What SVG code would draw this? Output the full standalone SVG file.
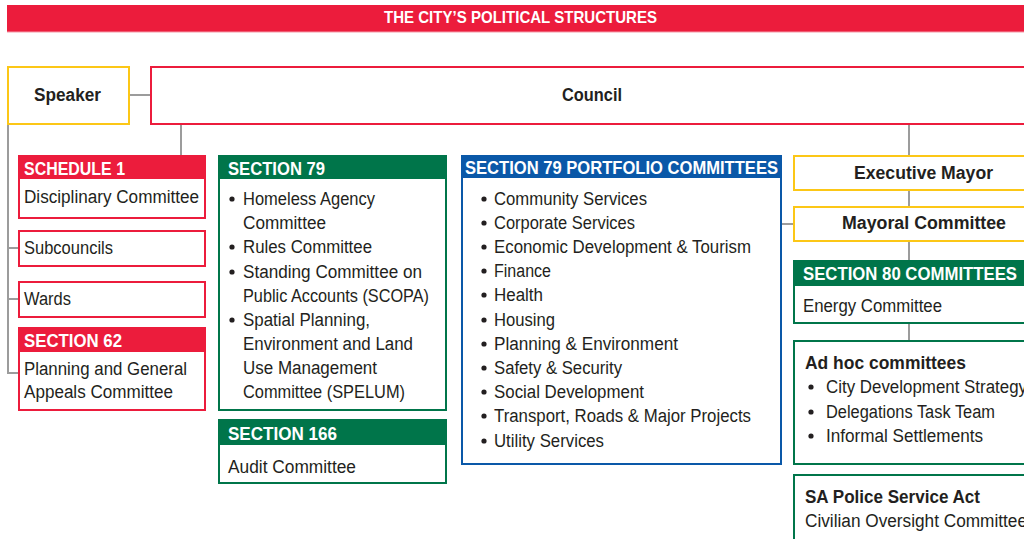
<svg xmlns="http://www.w3.org/2000/svg" width="1024" height="539" viewBox="0 0 1024 539">
  <style>
    text { font-family: "Liberation Sans", Arial, sans-serif; fill: #231f20; font-size: 18px; }
    .b { font-weight: bold; }
    .h { font-weight: bold; fill: #ffffff; font-size: 19px; }
    .title { font-weight: bold; fill: #ffffff; font-size: 17px; }
    .red { fill: #ffffff; stroke: #ec1c3c; stroke-width: 2; }
    .grn { fill: #ffffff; stroke: #00754a; stroke-width: 2; }
    .blu { fill: #ffffff; stroke: #0a58a8; stroke-width: 2; }
    .yel { fill: #ffffff; stroke: #fcc716; stroke-width: 2; }
    .hr { fill: #ec1c3c; }
    .hg { fill: #00754a; }
    .hb { fill: #0a58a8; }
    .dot { fill: #231f20; }
    .conn line, .conn polyline { stroke: #9c9c9c; stroke-width: 2; fill: none; }
  </style>

  <rect width="1024" height="539" fill="#ffffff"/>

  <!-- title bar -->
  <g id="title">
    <rect x="7" y="5" width="1020" height="27" fill="#ec1c3c"/>
    <line x1="7" y1="32" x2="1024" y2="32" stroke="#f49aa8" stroke-width="1"/>
    <text class="title" x="384" y="23" textLength="273" lengthAdjust="spacingAndGlyphs">THE CITY’S POLITICAL STRUCTURES</text>
  </g>

  <!-- connectors -->
  <g id="connectors" class="conn">
    <line x1="129" y1="95" x2="151" y2="95"/>
    <line x1="181" y1="124" x2="181" y2="155"/>
    <polyline points="8,124 8,373 18,373"/>
    <line x1="8" y1="248" x2="18" y2="248"/>
    <line x1="8" y1="299" x2="18" y2="299"/>
    <line x1="909" y1="124" x2="909" y2="341"/>
    <line x1="781" y1="224" x2="793" y2="224"/>
  </g>

  <g id="speaker">
    <rect class="yel" x="8" y="67" width="121" height="57"/>
    <text class="b" x="34" y="101" textLength="67" lengthAdjust="spacingAndGlyphs">Speaker</text>
  </g>

  <g id="council">
    <rect class="red" x="151" y="67" width="890" height="57"/>
    <text class="b" x="562" y="101" textLength="60" lengthAdjust="spacingAndGlyphs">Council</text>
  </g>

  <g id="schedule1">
    <rect class="red" x="19" y="156" width="186" height="62"/>
    <rect class="hr" x="19" y="156" width="186" height="23"/>
    <text class="h" x="24" y="175" textLength="101" lengthAdjust="spacingAndGlyphs">SCHEDULE 1</text>
    <text x="24" y="203" textLength="175" lengthAdjust="spacingAndGlyphs">Disciplinary Committee</text>
  </g>

  <g id="subcouncils">
    <rect class="red" x="19" y="231" width="186" height="35"/>
    <text x="24" y="254" textLength="89" lengthAdjust="spacingAndGlyphs">Subcouncils</text>
  </g>

  <g id="wards">
    <rect class="red" x="19" y="282" width="186" height="35"/>
    <text x="24" y="305" textLength="47" lengthAdjust="spacingAndGlyphs">Wards</text>
  </g>

  <g id="section62">
    <rect class="red" x="19" y="328" width="186" height="82"/>
    <rect class="hr" x="19" y="328" width="186" height="24"/>
    <text class="h" x="24" y="347" textLength="98" lengthAdjust="spacingAndGlyphs">SECTION 62</text>
    <text x="24" y="375" textLength="163" lengthAdjust="spacingAndGlyphs">Planning and General</text>
    <text x="24" y="398" textLength="149" lengthAdjust="spacingAndGlyphs">Appeals Committee</text>
  </g>

  <g id="section79">
    <rect class="grn" x="219" y="156" width="227" height="254"/>
    <rect class="hg" x="219" y="156" width="227" height="23"/>
    <text class="h" x="228" y="175" textLength="97" lengthAdjust="spacingAndGlyphs">SECTION 79</text>
    <circle class="dot" cx="232" cy="199" r="2.6"/>
    <text x="243" y="205" textLength="132" lengthAdjust="spacingAndGlyphs">Homeless Agency</text>
    <text x="243" y="229" textLength="83" lengthAdjust="spacingAndGlyphs">Committee</text>
    <circle class="dot" cx="232" cy="247" r="2.6"/>
    <text x="243" y="253" textLength="129" lengthAdjust="spacingAndGlyphs">Rules Committee</text>
    <circle class="dot" cx="232" cy="272" r="2.6"/>
    <text x="243" y="278" textLength="179" lengthAdjust="spacingAndGlyphs">Standing Committee on</text>
    <text x="243" y="302" textLength="186" lengthAdjust="spacingAndGlyphs">Public Accounts (SCOPA)</text>
    <circle class="dot" cx="232" cy="320" r="2.6"/>
    <text x="243" y="326" textLength="127" lengthAdjust="spacingAndGlyphs">Spatial Planning,</text>
    <text x="243" y="350" textLength="170" lengthAdjust="spacingAndGlyphs">Environment and Land</text>
    <text x="243" y="374" textLength="134" lengthAdjust="spacingAndGlyphs">Use Management</text>
    <text x="243" y="398" textLength="162" lengthAdjust="spacingAndGlyphs">Committee (SPELUM)</text>
  </g>

  <g id="section166">
    <rect class="grn" x="219" y="420" width="227" height="63"/>
    <rect class="hg" x="219" y="420" width="227" height="25"/>
    <text class="h" x="228" y="440" textLength="109" lengthAdjust="spacingAndGlyphs">SECTION 166</text>
    <text x="228" y="473" textLength="128" lengthAdjust="spacingAndGlyphs">Audit Committee</text>
  </g>

  <g id="portfolio">
    <rect class="blu" x="462" y="156" width="319" height="308"/>
    <rect class="hb" x="462" y="156" width="319" height="22"/>
    <text class="h" x="465" y="174" textLength="313" lengthAdjust="spacingAndGlyphs">SECTION 79 PORTFOLIO COMMITTEES</text>
    <g>
      <circle class="dot" cx="484" cy="199" r="2.6"/>
      <text x="494" y="205" textLength="153" lengthAdjust="spacingAndGlyphs">Community Services</text>
      <circle class="dot" cx="484" cy="223" r="2.6"/>
      <text x="494" y="229" textLength="141" lengthAdjust="spacingAndGlyphs">Corporate Services</text>
      <circle class="dot" cx="484" cy="247" r="2.6"/>
      <text x="494" y="253" textLength="257" lengthAdjust="spacingAndGlyphs">Economic Development &amp; Tourism</text>
      <circle class="dot" cx="484" cy="271" r="2.6"/>
      <text x="494" y="277" textLength="57" lengthAdjust="spacingAndGlyphs">Finance</text>
      <circle class="dot" cx="484" cy="295" r="2.6"/>
      <text x="494" y="301" textLength="49" lengthAdjust="spacingAndGlyphs">Health</text>
      <circle class="dot" cx="484" cy="320" r="2.6"/>
      <text x="494" y="326" textLength="61" lengthAdjust="spacingAndGlyphs">Housing</text>
      <circle class="dot" cx="484" cy="344" r="2.6"/>
      <text x="494" y="350" textLength="184" lengthAdjust="spacingAndGlyphs">Planning &amp; Environment</text>
      <circle class="dot" cx="484" cy="368" r="2.6"/>
      <text x="494" y="374" textLength="128" lengthAdjust="spacingAndGlyphs">Safety &amp; Security</text>
      <circle class="dot" cx="484" cy="392" r="2.6"/>
      <text x="494" y="398" textLength="150" lengthAdjust="spacingAndGlyphs">Social Development</text>
      <circle class="dot" cx="484" cy="416" r="2.6"/>
      <text x="494" y="422" textLength="257" lengthAdjust="spacingAndGlyphs">Transport, Roads &amp; Major Projects</text>
      <circle class="dot" cx="484" cy="441" r="2.6"/>
      <text x="494" y="447" textLength="110" lengthAdjust="spacingAndGlyphs">Utility Services</text>
    </g>
  </g>

  <g id="executive-mayor">
    <rect class="yel" x="794" y="156" width="250" height="34"/>
    <text class="b" x="854" y="179" textLength="139" lengthAdjust="spacingAndGlyphs">Executive Mayor</text>
  </g>

  <g id="mayoral-committee">
    <rect class="yel" x="794" y="207" width="250" height="34"/>
    <text class="b" x="842" y="229" textLength="164" lengthAdjust="spacingAndGlyphs">Mayoral Committee</text>
  </g>

  <g id="section80">
    <rect class="grn" x="794" y="261" width="250" height="62"/>
    <rect class="hg" x="794" y="261" width="250" height="25"/>
    <text class="h" x="803" y="280" textLength="214" lengthAdjust="spacingAndGlyphs">SECTION 80 COMMITTEES</text>
    <text x="803" y="312" textLength="139" lengthAdjust="spacingAndGlyphs">Energy Committee</text>
  </g>

  <g id="adhoc">
    <rect class="grn" x="794" y="341" width="250" height="123"/>
    <text class="b" x="805" y="369" textLength="161" lengthAdjust="spacingAndGlyphs">Ad hoc committees</text>
    <circle class="dot" cx="811" cy="387" r="2.6"/>
    <text x="826" y="393" textLength="201" lengthAdjust="spacingAndGlyphs">City Development Strategy</text>
    <circle class="dot" cx="811" cy="412" r="2.6"/>
    <text x="826" y="418" textLength="169" lengthAdjust="spacingAndGlyphs">Delegations Task Team</text>
    <circle class="dot" cx="811" cy="436" r="2.6"/>
    <text x="826" y="442" textLength="157" lengthAdjust="spacingAndGlyphs">Informal Settlements</text>
  </g>

  <g id="sa-police">
    <rect class="grn" x="794" y="475" width="250" height="80"/>
    <text class="b" x="805" y="503" textLength="175" lengthAdjust="spacingAndGlyphs">SA Police Service Act</text>
    <text x="805" y="527" textLength="222" lengthAdjust="spacingAndGlyphs">Civilian Oversight Committee</text>
  </g>
</svg>
